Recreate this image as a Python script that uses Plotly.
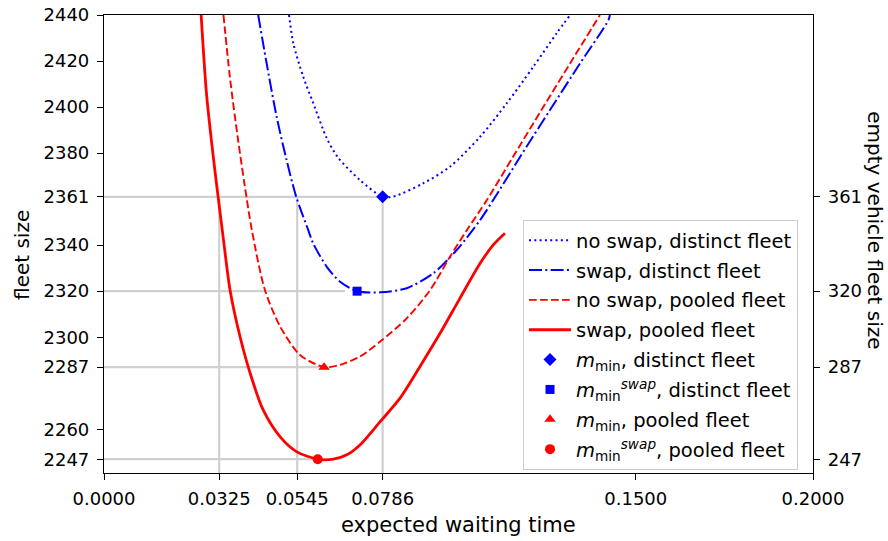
import plotly.graph_objects as go

# ---------------- data ----------------
# no swap, distinct fleet (blue dotted)
ns_dist_x = [0.0522, 0.0534, 0.0562, 0.0590, 0.0628, 0.0659, 0.0722, 0.0786, 0.0816,
             0.0901, 0.0976, 0.1061, 0.1136, 0.1211, 0.1277, 0.1315]
ns_dist_y = [2440, 2427.7, 2413.2, 2401.8, 2386.6, 2378.3, 2368.3, 2361.0, 2361.1,
             2366.9, 2374.1, 2387.1, 2401.6, 2417.5, 2432.1, 2440]

# swap, distinct fleet (blue dash-dot)
sw_dist_x = [0.0435, 0.0457, 0.0487, 0.0515, 0.0542, 0.0576, 0.0590, 0.0628, 0.0666, 0.0714,
             0.0779, 0.0854, 0.0929, 0.0995, 0.1061, 0.1098, 0.1174, 0.1258, 0.1343, 0.1423, 0.1427]
sw_dist_y = [2440, 2420.5, 2395.8, 2377.0, 2361.1, 2346.6, 2340.8, 2330.7, 2324.1, 2320.0,
             2319.5, 2321.3, 2327.8, 2337.9, 2350.9, 2359.6, 2378.4, 2398.7, 2419.0, 2437.8, 2440]

# no swap, pooled fleet (red dashed)
ns_pool_x = [0.0337, 0.0355, 0.0377, 0.0396, 0.0417, 0.0454, 0.0497, 0.0553, 0.0621, 0.0666,
             0.0722, 0.0779, 0.0854, 0.0920, 0.0976, 0.1023, 0.1080, 0.1155, 0.1239, 0.1324, 0.1399]
ns_pool_y = [2440, 2413.2, 2387.1, 2366.9, 2346.6, 2320.5, 2304.6, 2292.3, 2287.0, 2288.0,
             2291.6, 2298.1, 2308.2, 2320.5, 2335.0, 2346.4, 2359.6, 2378.7, 2400.0, 2421.3, 2440]

# swap, pooled fleet (red solid)
sw_pool_x = [0.0274, 0.0289, 0.0307, 0.0322, 0.0337, 0.0356, 0.0384, 0.0412, 0.0449, 0.0497,
             0.0544, 0.0603, 0.0647, 0.0685, 0.0722, 0.0779, 0.0835, 0.0891, 0.0948, 0.1004,
             0.1061, 0.1098, 0.1131]
sw_pool_y = [2440, 2406.1, 2380.1, 2360.9, 2342.3, 2320.1, 2300.1, 2284.5, 2268.4, 2256.7,
             2250.2, 2247.0, 2247.0, 2248.9, 2253.2, 2263.3, 2273.5, 2287.2, 2301.7, 2316.9,
             2332.1, 2340.1, 2345.2]

# minimum points
min_names = ["<i>m</i><sub>min</sub>, distinct fleet",
             "<i>m</i><sub>min</sub><sup><i>swap</i></sup>, distinct fleet",
             "<i>m</i><sub>min</sub>, pooled fleet",
             "<i>m</i><sub>min</sub><sup><i>swap</i></sup>, pooled fleet"]
min_x = [0.0786, 0.0714, 0.0621, 0.0603]
min_y = [2361, 2320, 2287, 2247]
empty_fleet = [361, 320, 287, 247]

# reference grid segments
hline_y = [2361, 2320, 2287, 2247]
hline_xend = [0.0786, 0.0680, 0.0621, 0.0603]
vline_x = [0.0325, 0.0545, 0.0786]
vline_ytop = [2361, 2361, 2361]

x_ticks = [0.0, 0.0325, 0.0545, 0.0786, 0.15, 0.2]
x_ticktext = ["0.0000", "0.0325", "0.0545", "0.0786", "0.1500", "0.2000"]
y_ticks = [2247, 2260, 2287, 2300, 2320, 2340, 2361, 2380, 2400, 2420, 2440]
y2_ticks = [247, 287, 320, 361]

x_range = [0.0, 0.2]
y_range = [2241, 2440]
y2_range = [241, 440]

# ---------------- figure ----------------
FONT = "DejaVu Sans"
BLUE = "#0000ff"
RED = "#ff0000"
GRID = "#d0d0d0"

fig = go.Figure()

line_specs = [
    ("no swap, distinct fleet", ns_dist_x, ns_dist_y, BLUE, 2.0, "2px,3.3px"),
    ("swap, distinct fleet", sw_dist_x, sw_dist_y, BLUE, 2.0, "13px,3.3px,2px,3.3px"),
    ("no swap, pooled fleet", ns_pool_x, ns_pool_y, RED, 1.9, "7.7px,3.3px"),
    ("swap, pooled fleet", sw_pool_x, sw_pool_y, RED, 2.8, "solid"),
]
for i, (name, xs, ys, col, w, dash) in enumerate(line_specs):
    fig.add_trace(go.Scatter(
        x=xs, y=ys, mode="lines", name=name, legendgroup=f"g{i}",
        line=dict(color=col, width=w, dash=dash, shape="spline", smoothing=0.8),
        hoverinfo="skip"))

marker_specs = [("diamond", BLUE, 10), ("square", BLUE, 9),
                ("triangle-up", RED, 10), ("circle", RED, 10)]
for i, (sym, col, sz) in enumerate(marker_specs):
    fig.add_trace(go.Scatter(
        x=[min_x[i]], y=[min_y[i]], mode="markers", name=min_names[i],
        legendgroup=f"m{i}",
        marker=dict(symbol=sym, color=col, size=sz, line=dict(width=0)),
        hoverinfo="skip"))

# invisible trace to attach the right axis
fig.add_trace(go.Scatter(x=min_x, y=empty_fleet, yaxis="y2", mode="markers",
                         marker=dict(opacity=0), showlegend=False, hoverinfo="skip"))

shapes = []
for yv, xe in zip(hline_y, hline_xend):
    shapes.append(dict(type="line", xref="x", yref="y", x0=x_range[0], x1=xe, y0=yv, y1=yv,
                       line=dict(color=GRID, width=2.2), layer="below"))
for xv, yt in zip(vline_x, vline_ytop):
    shapes.append(dict(type="line", xref="x", yref="y", x0=xv, x1=xv, y0=y_range[0], y1=yt,
                       line=dict(color=GRID, width=2.2), layer="below"))

axis_common = dict(showgrid=False, zeroline=False, showline=True, linecolor="black",
                   linewidth=1.2, ticks="outside", ticklen=6, tickwidth=1.2,
                   tickcolor="black", automargin=False,
                   tickfont=dict(family=FONT, size=18, color="black"))

fig.update_layout(
    width=888, height=541,
    margin=dict(l=104, r=75, t=15, b=68),
    paper_bgcolor="white", plot_bgcolor="white",
    font=dict(family=FONT, size=18, color="black"),
    shapes=shapes,
    xaxis=dict(range=x_range, tickvals=x_ticks, ticktext=x_ticktext, mirror=True,
               ticklabelstandoff=3, **axis_common),
    yaxis=dict(range=y_range, tickvals=y_ticks, ticklabelstandoff=4, **axis_common),
    yaxis2=dict(range=y2_range, tickvals=y2_ticks, overlaying="y", side="right",
                ticklabelstandoff=4, **axis_common),
    showlegend=True,
    legend=dict(x=0.591, y=0.5524, xanchor="left", yanchor="top",
                bgcolor="white", bordercolor="#cccccc", borderwidth=1,
                font=dict(family=FONT, size=19.5, color="black"),
                itemwidth=42, tracegroupgap=1.5, traceorder="grouped"),
    annotations=[
        dict(text="expected waiting time", xref="paper", yref="paper", x=0.5, y=-0.1135,
             xanchor="center", yanchor="middle", showarrow=False,
             font=dict(family=FONT, size=21, color="black")),
        dict(text="fleet size", xref="paper", yref="paper", x=-0.1157, y=0.476,
             xanchor="center", yanchor="middle", showarrow=False, textangle=-90,
             font=dict(family=FONT, size=20, color="black")),
        dict(text="empty vehicle fleet size", xref="paper", yref="paper", x=1.0875, y=0.53,
             xanchor="center", yanchor="middle", showarrow=False, textangle=90,
             font=dict(family=FONT, size=20, color="black")),
    ],
)

fig.write_html("out.html")
